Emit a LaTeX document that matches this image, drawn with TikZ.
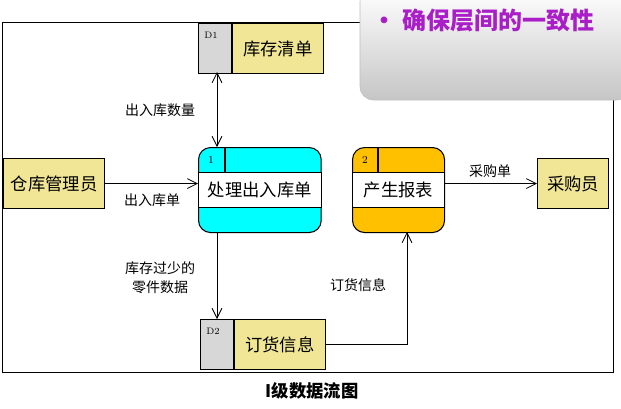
\documentclass[tikz,border=0pt]{standalone}
\usepackage{fontspec}
\newfontfamily\cjk{Noto Sans CJK SC}
\usetikzlibrary{arrows.meta,positioning}
\definecolor{storeyellow}{RGB}{240,230,150}
\definecolor{storegray}{RGB}{215,215,215}
\definecolor{proccyan}{RGB}{0,255,255}
\definecolor{procorange}{RGB}{255,192,0}
\definecolor{titlepurple}{RGB}{170,30,200}
\tikzset{
  flow/.style={-{Straight Barb[length=2.6mm,width=2.6mm]},semithick},
  store/.style={draw,thick,fill=storeyellow,minimum height=37.5pt,inner sep=0pt,font=\cjk\fontsize{13}{15}\selectfont},
  tag/.style={draw,thick,fill=storegray,minimum height=37.5pt,minimum width=24.75pt,inner sep=0pt,font=\fontsize{7}{8}\selectfont,anchor=north west},
  ext/.style={draw,thick,fill=storeyellow,minimum height=37.5pt,inner sep=0pt,font=\cjk\fontsize{13}{15}\selectfont},
  proc/.style={draw,thick,rounded corners=9pt,minimum height=63.75pt,inner sep=0pt},
  band/.style={draw,thick,fill=white,minimum height=26pt,inner sep=0pt,font=\cjk\fontsize{13}{15}\selectfont},
  lbl/.style={font=\cjk\fontsize{10.5}{14}\selectfont,align=center}
}
\begin{document}
\begin{tikzpicture}[x=0.75pt,y=-0.75pt]
\useasboundingbox (0,0) rectangle (621,408);
% frame
\draw[semithick] (360,22) -- (2,22) -- (2,372) -- (613,372) -- (613,90);
% title box
\shade[top color=white,bottom color=gray!45,rounded corners=10pt,draw=gray!50]
  (360,-12) rectangle (630,100);
\node[font=\cjk\bfseries\fontsize{18}{20}\selectfont,text=titlepurple,anchor=west] (title) at (368,20) {•\ 确保层间的一致性};
% data stores
\node[tag,minimum width=24.75pt] (d1tag) at (198,23) {};
\node[anchor=north west,yshift=-3pt,font=\fontsize{7}{8}\selectfont] at (d1tag.north west) {\,D1};
\node[store,minimum width=68pt,anchor=north west] (d1) at (d1tag.north east) {库存清单};
\node[tag] (d2tag) at (200,319) {};
\node[anchor=north west,yshift=-3pt,font=\fontsize{7}{8}\selectfont] at (d2tag.north west) {\,D2};
\node[store,minimum width=68pt,anchor=north west] (d2) at (d2tag.north east) {订货信息};
% processes
\node[proc,fill=proccyan,minimum width=92pt,anchor=north west] (p1) at (198,147) {};
\node[band,minimum width=92pt,anchor=north west] (p1b) at (198,172) {处理出入库单};
\draw[thick] (225,147) -- (225,172);
\node[font=\fontsize{8}{9}\selectfont] at (211,160) {1};
\node[proc,fill=procorange,minimum width=69pt,anchor=north west] (p2) at (352,147) {};
\node[band,minimum width=69pt,anchor=north west] (p2b) at (352,172) {产生报表};
\draw[thick] (378,147) -- (378,172);
\node[font=\fontsize{8}{9}\selectfont] at (365,160) {2};
% external entities
\node[ext,minimum width=75.75pt,anchor=north west] (clerk) at (3,158) {仓库管理员};
\node[ext,minimum width=53.25pt,anchor=north west] (buyer) at (537,158) {采购员};
% flows
\draw[flow,{Straight Barb[length=2.6mm,width=2.6mm]}-{Straight Barb[length=2.6mm,width=2.6mm]}] (217,72) -- (217,147);
\draw[flow] (clerk.east) -- (clerk.east -| p1.west);
\draw[flow] (p2b.east |- buyer.west) -- (buyer.west);
\draw[flow] (217,232) -- (217,319);
\draw[flow] (d2.east) -| (407,232);
% labels
\node[lbl] (lq) at (160,110) {出入库数量};
\node[lbl] (lin) at (152,200) {出入库单};
\node[lbl] (llow) at (160,278) {库存过少的\\零件数据};
\node[lbl] (lord) at (358,285) {订货信息};
\node[lbl] (lbuy) at (490,171) {采购单};
\node[font=\cjk\bfseries\fontsize{13}{15}\selectfont] (cap) at (312,391) {I级数据流图};
\end{tikzpicture}
\end{document}
